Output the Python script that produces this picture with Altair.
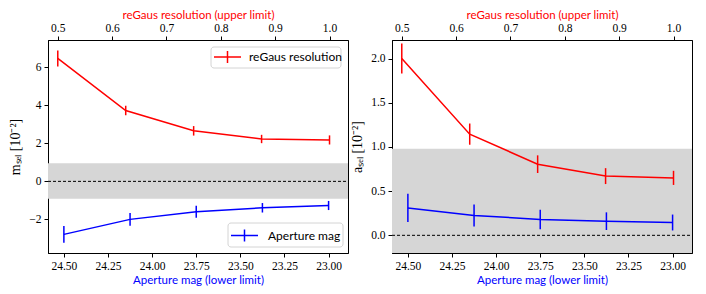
import altair as alt
import pandas as pd

mag = [24.5, 24.125, 23.75, 23.375, 23.0]
res = [0.5, 0.625, 0.75, 0.875, 1.0]

m_mag = [-2.79, -2.0, -1.6, -1.39, -1.27]
m_mag_err = [0.44, 0.33, 0.32, 0.25, 0.24]
m_res = [6.47, 3.73, 2.66, 2.23, 2.18]
m_res_err = [0.42, 0.25, 0.25, 0.22, 0.24]

a_mag = [0.31, 0.225, 0.18, 0.16, 0.145]
a_mag_err = [0.16, 0.125, 0.11, 0.10, 0.09]
a_res = [2.0, 1.145, 0.805, 0.67, 0.65]
a_res_err = [0.17, 0.12, 0.10, 0.09, 0.08]

mag_ticks = [24.5, 24.25, 24.0, 23.75, 23.5, 23.25, 23.0]
res_ticks = [0.5, 0.6, 0.7, 0.8, 0.9, 1.0]
m_ticks = [-2, 0, 2, 4, 6]
a_ticks = [0.0, 0.5, 1.0, 1.5, 2.0]

m_band = [-0.92, 0.95]
a_band = [-0.2, 0.98]

W, H = 300, 213
RED = "#ff0000"
BLUE = "#0000ff"


def panel(vm, em, vr, er, ydom, yticks, yfmt, band, ytitle, legends):
    def Y(field):
        return alt.Y(field, type="quantitative",
                     scale=alt.Scale(domain=ydom, nice=False, zero=False),
                     axis=alt.Axis(values=yticks, format=yfmt, title=ytitle,
                                   titleFont="Liberation Serif", titleFontSize=14,
                                   titlePadding=6))

    xb = alt.X("x:Q", scale=alt.Scale(domain=[24.59, 22.89], nice=False, zero=False),
               axis=alt.Axis(orient="bottom", values=mag_ticks, format=".2f",
                             title="Aperture mag (lower limit)", titleColor=BLUE,
                             titlePadding=3))
    xt = alt.X("x:Q", scale=alt.Scale(domain=[0.482, 1.034], nice=False, zero=False),
               axis=alt.Axis(orient="top", values=res_ticks, format=".1f",
                             title="reGaus resolution (upper limit)", titleColor=RED,
                             titlePadding=2))

    bdf = pd.DataFrame({"lo": [band[0]], "hi": [band[1]]})
    band_l = alt.Chart(bdf).mark_rect(color="#d6d6d6").encode(
        y=Y("lo"), y2="hi", x=alt.value(0), x2=alt.value(W))
    zero = alt.Chart(pd.DataFrame({"z": [0]})).mark_rule(
        color="black", strokeDash=[3, 2], strokeWidth=1).encode(
        y=Y("z"), x=alt.value(0), x2=alt.value(W))

    dfb = pd.DataFrame({"x": mag, "v": vm,
                        "lo": [a - b for a, b in zip(vm, em)],
                        "hi": [a + b for a, b in zip(vm, em)]})
    dfr = pd.DataFrame({"x": res, "v": vr,
                        "lo": [a - b for a, b in zip(vr, er)],
                        "hi": [a + b for a, b in zip(vr, er)]})

    blue = alt.layer(
        alt.Chart(dfb).mark_line(color=BLUE, strokeWidth=1.5).encode(x=xb, y=Y("v")),
        alt.Chart(dfb).mark_rule(color=BLUE, strokeWidth=1.5).encode(x=xb, y=Y("lo"), y2="hi"),
    )
    red = alt.layer(
        alt.Chart(dfr).mark_line(color=RED, strokeWidth=1.5).encode(x=xt, y=Y("v")),
        alt.Chart(dfr).mark_rule(color=RED, strokeWidth=1.5).encode(x=xt, y=Y("lo"), y2="hi"),
    )

    layers = [band_l, zero, blue, red]
    one = pd.DataFrame({"a": [0]})
    for (bx0, bx1, by0, by1, lx0, lx1, ly, tx, label, col) in legends:
        layers.append(alt.Chart(one).mark_rect(
            fill="white", stroke="#d0d0d0", strokeWidth=1, cornerRadius=3, opacity=0.9).encode(
            x=alt.value(bx0), x2=alt.value(bx1), y=alt.value(by0), y2=alt.value(by1)))
        layers.append(alt.Chart(one).mark_rule(color=col, strokeWidth=1.5).encode(
            x=alt.value(lx0), x2=alt.value(lx1), y=alt.value(ly)))
        xc = (lx0 + lx1) / 2
        layers.append(alt.Chart(one).mark_rule(color=col, strokeWidth=1.5).encode(
            x=alt.value(xc), y=alt.value(ly - 6), y2=alt.value(ly + 6)))
        layers.append(alt.Chart(one).mark_text(
            text=label, align="left", baseline="middle", font="Lato", fontSize=12,
            color="black").encode(x=alt.value(tx), y=alt.value(ly)))

    return alt.layer(*layers).resolve_scale(x="independent").properties(width=W, height=H)


left = panel(m_mag, m_mag_err, m_res, m_res_err, [-3.77, 7.44], m_ticks, "d",
             m_band, "mₛₑₗ [10⁻²]",
             [(163, 293, 7, 28, 166, 193, 17, 201, "reGaus resolution", RED),
              (180, 295, 183, 207, 183, 210, 195.5, 220, "Aperture mag", BLUE)])
right = panel(a_mag, a_mag_err, a_res, a_res_err, [-0.2, 2.21], a_ticks, ".1f",
              a_band, "aₛₑₗ [10⁻²]", [])

chart = alt.hconcat(left, right, spacing=1).properties(
    padding={"left": 0, "top": 0, "right": 0, "bottom": 0}
).configure_axis(
    labelFont="Liberation Serif", labelFontSize=11.5, labelColor="black",
    tickColor="black", domainColor="black", grid=False, tickSize=4,
    titleFont="Lato", titleFontSize=11.5, titleFontWeight="normal",
    labelPadding=3,
).configure_view(stroke="black", strokeWidth=1)

chart.save("out.html", embed_options={"renderer": "svg", "actions": False})
